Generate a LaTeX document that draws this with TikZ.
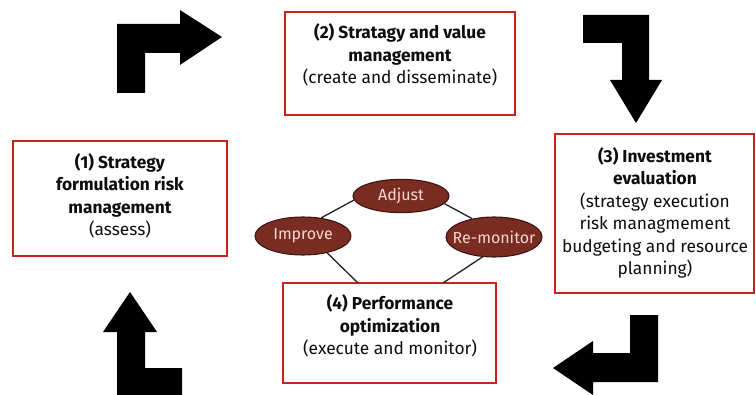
\documentclass[tikz,border=0pt]{standalone}
\usepackage{fontspec}
\setmainfont{Fira Sans}
\usetikzlibrary{shapes,fit}
\definecolor{boxred}{HTML}{C8231E}
\definecolor{ovalfill}{HTML}{7A2C22}
\definecolor{ovaldraw}{HTML}{3B1410}
\definecolor{ovaltext}{HTML}{F5D8CE}
\newcommand{\ovaltxt}[1]{\makebox[0pt]{#1}}

\begin{document}
\begin{tikzpicture}[x=0.75pt,y=-0.75pt,semithick,
                box/.style={draw=boxred,line width=1.4pt,fill=white,inner sep=0pt},
                txt/.style={align=center,text=black!95,font=\fontsize{13}{16.9}\selectfont},
                oval/.style={shape=ellipse,draw=ovaldraw,line width=0.8pt,fill=ovalfill,text=ovaltext,
                    inner sep=0pt,minimum width=72pt,font=\fontsize{12}{14}\selectfont},
                link/.style={draw=black!85,line width=1pt},
                blockarrow/.style={fill=black}]
                \useasboundingbox (0,0) rectangle (756,395);

                % the four boxes
                \node[box,fit={(13,141) (227,256)}](b1){};
                \node[box,fit={(285,12) (515,115)}](b2){};
                \node[box,fit={(555,134) (754,293)}](b3){};
                \node[box,fit={(283,283) (496,383)}](b4){};
                \node[txt](t1)at(120,196){\textbf{(1) Strategy}\\\textbf{formulation risk}\\\textbf{management}\\(assess)};
                \node[txt](t2)at(400,55){\textbf{(2) Stratagy and value}\\\textbf{management}\\(create and disseminate)};
                \node[txt](t3)at(655,213){\textbf{(3) Investment}\\\textbf{evaluation}\\(strategy execution\\risk managmement\\budgeting and resource\\planning)};
                \node[txt](t4)at(390,326){\textbf{(4) Performance}\\\textbf{optimization}\\(execute and monitor)};

                % the small cycle
                \node[oval,minimum height=25pt](adj)at(401,196){\ovaltxt{Adjust}};
                \node[oval,minimum height=28.5pt](imp)at(303,236){\ovaltxt{Improve}};
                \node[oval,minimum height=30pt](rem)at(494,237){\ovaltxt{Re-monitor}};
                \coordinate (i4) at (358,283);
                \coordinate (r4) at (443,283);
                \path[link] (imp.45) edge (adj.185)
                (adj.-10) edge (rem.140)
                (imp.-35) edge (i4)
                (rem.-120) edge (r4);

                % block arrows
                \fill[blockarrow] (117,93) -- (117,24) -- (180,24) -- (180,10) -- (222,37) -- (180,65) -- (180,53) -- (145,53) -- (145,93) -- cycle;
                \fill[blockarrow] (583,15) -- (649,15) -- (649,80) -- (662,80) -- (636,123) -- (610,80) -- (622,80) -- (622,43) -- (583,43) -- cycle;
                \fill[blockarrow] (658,315) -- (658,382) -- (593,382) -- (593,395) -- (553,368) -- (593,341) -- (593,353) -- (630,353) -- (630,315) -- cycle;
                \fill[blockarrow] (130,292) -- (157,332) -- (145,332) -- (145,368) -- (182,368) -- (182,395) -- (117,395) -- (117,332) -- (103,332) -- cycle;
            \end{tikzpicture}
\end{document}
